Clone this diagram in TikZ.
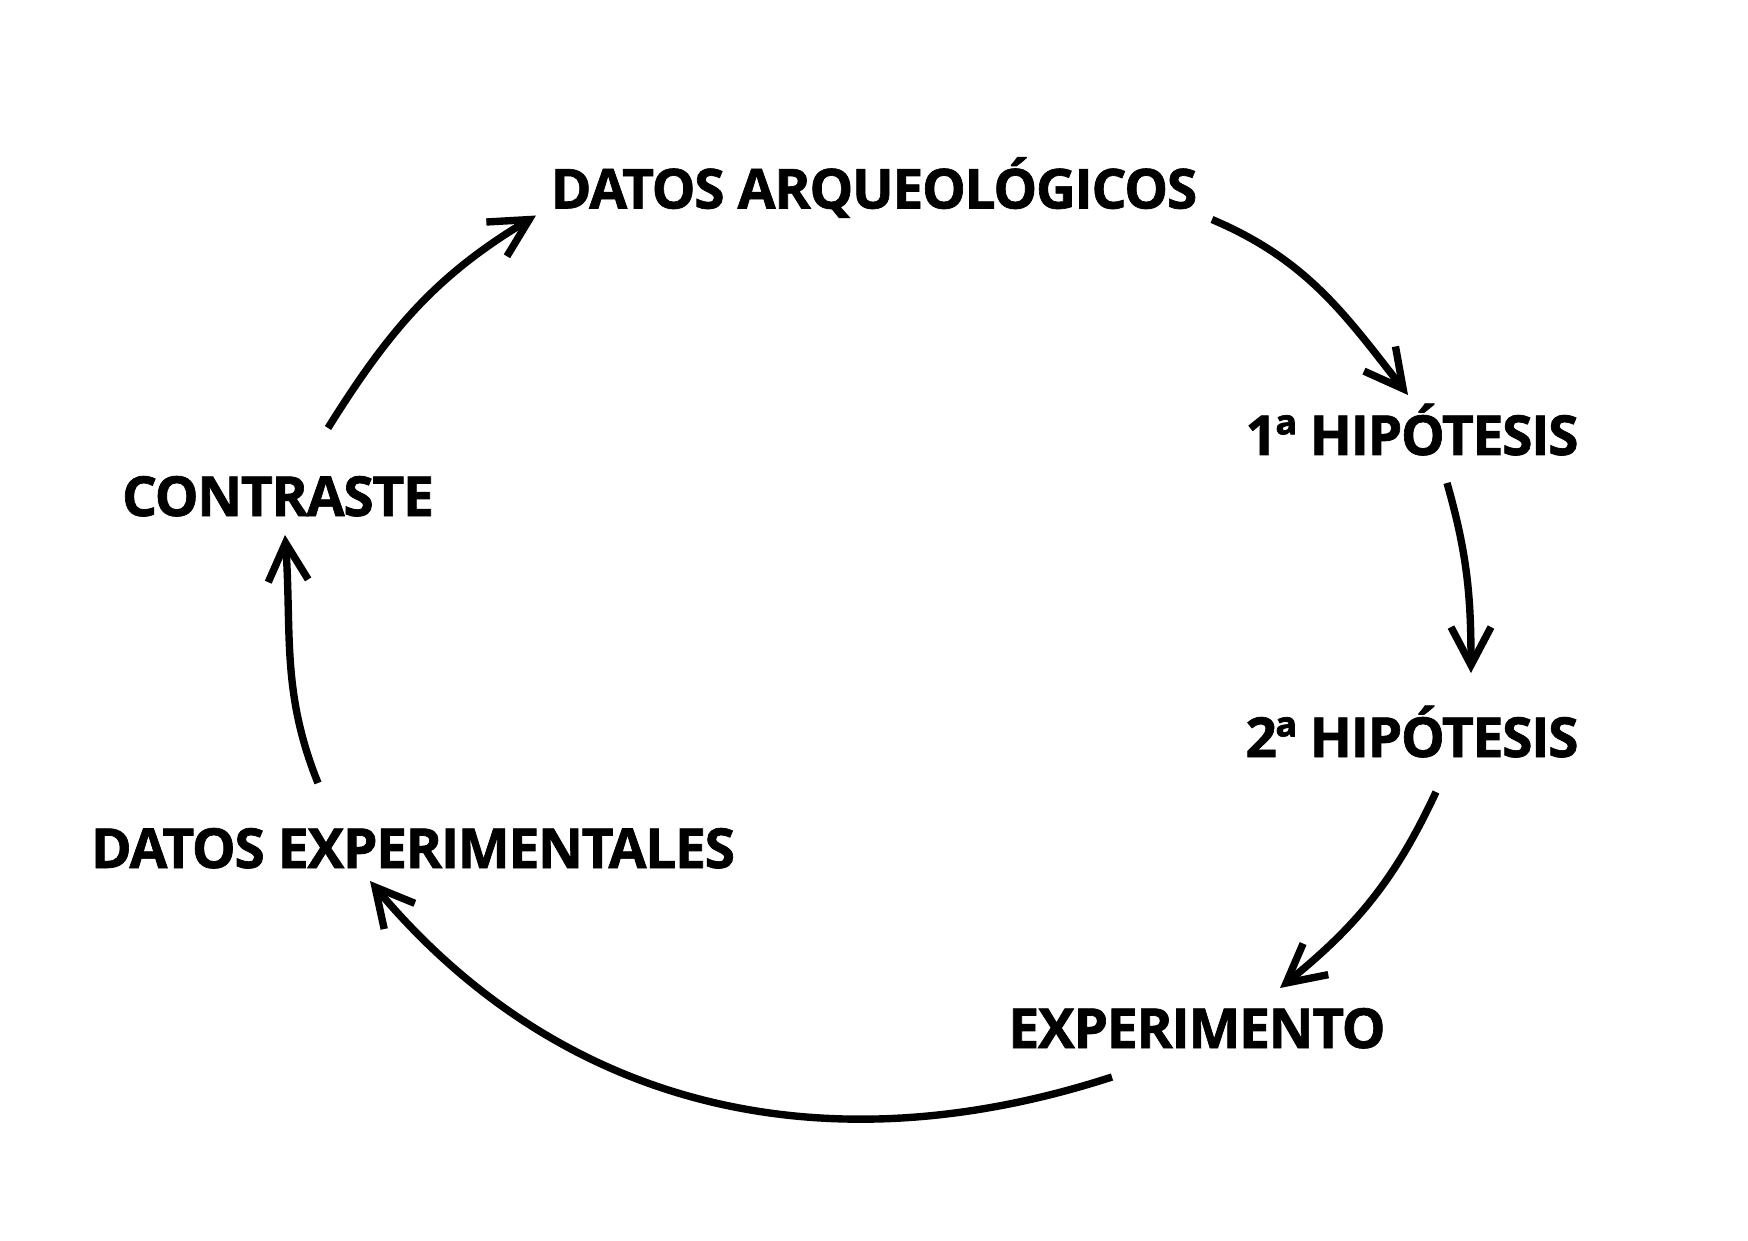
\documentclass[tikz,border=0pt]{standalone}
\usepackage{fontspec}
\setmainfont{Open Sans}[LetterSpace=-2.4, BoldFeatures={FakeBold=1.2}]
\usepackage{tikz}
\usetikzlibrary{
    arrows.meta,
    calc
}
\definecolor{ink}{RGB}{0,0,0}
\tikzset{
    line cap=round,
    line join=round,
    etapa/.style={
        font=\fontsize{15.7}{19}\selectfont\bfseries,
        text=ink,
        inner sep=0pt,
        anchor=base
    },
    ciclo/.style={
        -{Straight Barb[length=3.8mm, width=4.0mm]},
        draw=ink,
        line width=2.1pt
    }
}

\begin{document}
\begin{tikzpicture}

\useasboundingbox (0,0) rectangle (17.48,12.40);

% Etapas del ciclo
\node[etapa] (arq) at (8.74, 10.315) {DATOS ARQUEOLÓGICOS};
\node[etapa] (hip1) at (14.12, 7.85) {1ª HIPÓTESIS};
\node[etapa] (hip2) at (14.12, 4.83) {2ª HIPÓTESIS};
\node[etapa] (exp) at (11.97, 1.92) {EXPERIMENTO};
\node[etapa] (datexp) at (4.13, 3.72) {DATOS EXPERIMENTALES};
\node[etapa] (contr) at (2.78, 7.24) {CONTRASTE};

% Flechas del ciclo
\draw[ciclo] ([shift={(0.50,0.88)}]contr.base) to[out=58, in=211] ([shift={(-3.38,-0.07)}]arq.base);
\draw[ciclo] ([shift={(3.38,-0.11)}]arq.base) to[out=-23, in=128] ([shift={(-0.04,0.60)}]hip1.base);
\draw[ciclo] ([shift={(0.35,-0.28)}]hip1.base) to[out=-74, in=90] ([shift={(0.59,0.84)}]hip2.base);
\draw[ciclo] ([shift={(0.24,-0.35)}]hip2.base) to[out=-115, in=39] ([shift={(0.83,0.60)}]exp.base);
\draw[ciclo] ([shift={(-0.85,-0.29)}]exp.base) to[out=198, in=-50] ([shift={(-0.43,-0.13)}]datexp.base);
\draw[ciclo] ([shift={(-0.95,0.85)}]datexp.base) to[out=112, in=-86] ([shift={(0.07,-0.19)}]contr.base);

\end{tikzpicture}
\end{document}
